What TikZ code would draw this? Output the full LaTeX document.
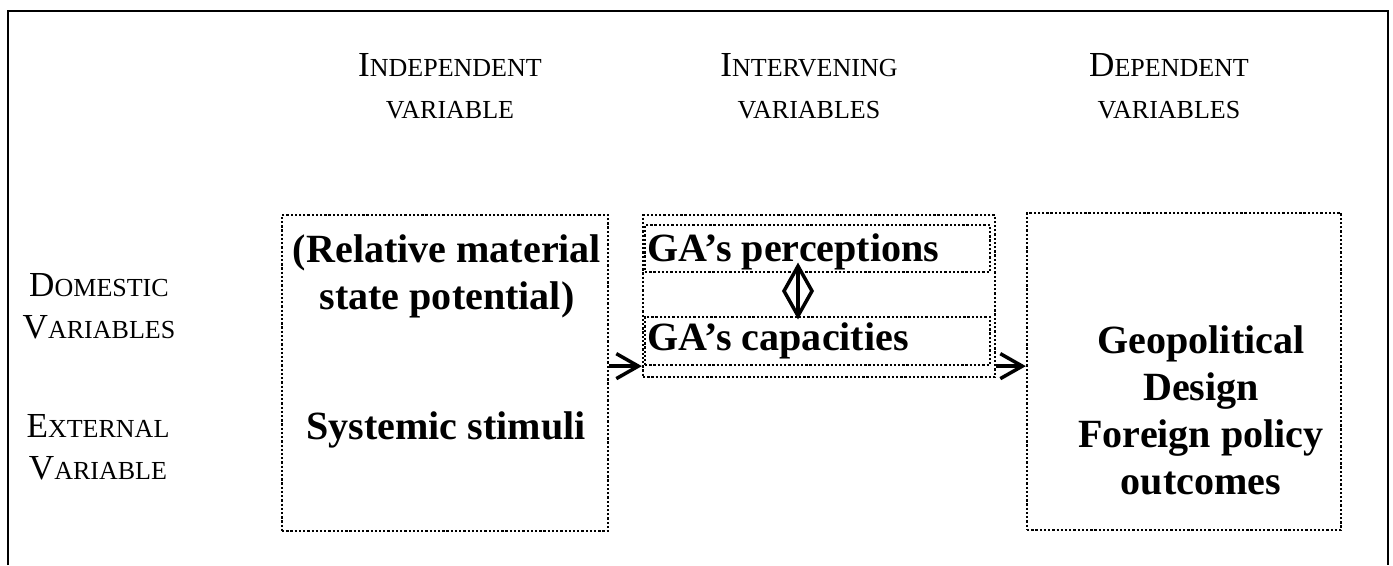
\documentclass[tikz,border=0pt]{standalone}
\usepackage{fontspec}
\setmainfont{Liberation Serif}
\usetikzlibrary{arrows.meta,fit,calc}

% capital letter followed by small capitals
\newcommand{\smcap}[2]{{\fontsize{20}{24}\selectfont #1}{\fontsize{14.8}{24}\selectfont #2}}

\tikzset{
  dotbox/.style={draw, line width=1.3pt, dash pattern=on 1.3pt off 1.1pt, inner sep=0pt},
  heading/.style={align=center, inner sep=0pt, font=\fontsize{20}{24}\selectfont},
  bigtext/.style={align=center, inner sep=0pt, font=\bfseries\fontsize{22.8}{26.7}\selectfont},
  flow/.style={line width=2pt, -{Straight Barb[length=0.44cm,width=0.5cm]}},
  twoway/.style={line width=2pt, line join=miter}
}

\begin{document}
\begin{tikzpicture}[x=0.02cm, y=-0.02cm]
  \useasboundingbox (0,0) rectangle (1393,565);
  % frame, open at the bottom
  \draw[line width=1.2pt] (8,565) -- (8,11) -- (1388,11) -- (1388,565);

  % column headings
  \node[heading] (indhead) at (450,86) {\smcap{I}{NDEPENDENT}\\\smcap{}{VARIABLE}};
  \node[heading] (inthead) at (809,86) {\smcap{I}{NTERVENING}\\\smcap{}{VARIABLES}};
  \node[heading] (dephead) at (1169,86) {\smcap{D}{EPENDENT}\\\smcap{}{VARIABLES}};

  % row labels
  \node[heading] (domlabel) at (99,306) {\smcap{D}{OMESTIC}\\\smcap{V}{ARIABLES}};
  \node[heading] (extlabel) at (98,447) {\smcap{E}{XTERNAL}\\\smcap{V}{ARIABLE}};

  % boxes
  \node[dotbox, fit={(282,215) (608,531)}] (indep) {};
  \node[dotbox, fit={(643,215) (995,377)}] (mid) {};
  \node[dotbox, fit={(645,225) (990,272)}] (perc) {};
  \node[dotbox, fit={(645,317) (990,365)}] (cap) {};
  \node[dotbox, fit={(1027,213) (1341,530)}] (dep) {};

  % box texts
  \node[bigtext] (potential) at (447,276) {(Relative material\\state potential)};
  \node[bigtext] (stimuli) at (446,430) {Systemic stimuli};
  \node[bigtext, anchor=west] (perctext) at (647,252) {GA's perceptions};
  \node[bigtext, anchor=west] (captext) at (647,341) {GA's capacities};
  \node[bigtext] (outcomes) at (1201,410) {Geopolitical\\Design\\Foreign policy\\outcomes};

  % connectors
  \draw[flow] (indep.east |- cap.south) -- (mid.west |- cap.south);
  \draw[flow] (mid.east |- cap.south) -- (dep.west |- cap.south);

  % two-way arrow between perceptions and capacities
  \coordinate (dtop) at ([shift={(-0.39cm,0.14cm)}]perc.south);
  \coordinate (dbot) at ([xshift=-0.39cm]cap.north);
  \coordinate (dmid) at ($(dtop)!0.5!(dbot)$);
  \draw[twoway] (dtop) -- (dbot);
  \draw[twoway] (dtop) -- ([xshift=0.28cm]dmid) -- (dbot) -- ([xshift=-0.28cm]dmid) -- cycle;
\end{tikzpicture}
\end{document}
